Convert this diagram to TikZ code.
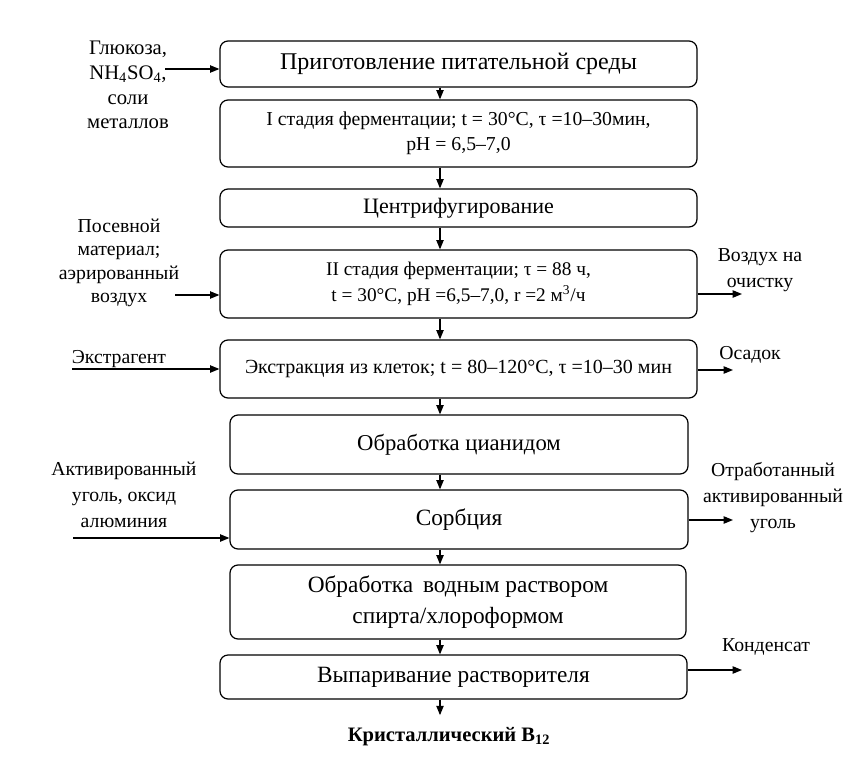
\documentclass[tikz,border=0pt]{standalone}
\usepackage{fontspec}
\setmainfont{Liberation Serif}
\usetikzlibrary{arrows.meta}
\begin{document}
\begin{tikzpicture}[x=0.75pt,y=-0.75pt,
    >={Triangle[length=7pt,width=5.5pt]},
    every path/.style={line width=0.9pt},
    stage/.style={draw,rounded corners=6pt,align=center,inner sep=0pt},
    side/.style={align=center,inner sep=0pt,font=\fontsize{14.8}{19.5}\selectfont}]
  \useasboundingbox (0,0) rectangle (861,761);
  % stages
  \node[stage,minimum width=357.75pt,minimum height=34.5pt,font=\fontsize{18}{22}\selectfont](b1) at (458.5,64) {Приготовление питательной среды};
  \node[stage,minimum width=357.75pt,minimum height=50.25pt,font=\fontsize{14.8}{19}\selectfont](b2) at (458.5,133.5) {I стадия ферментации; t = 30°C, τ =10–30мин,\\ pH = 6,5–7,0};
  \node[stage,minimum width=357.75pt,minimum height=28.5pt,font=\fontsize{16.5}{19}\selectfont](b3) at (458.5,208) {Центрифугирование};
  \node[stage,minimum width=357.75pt,minimum height=51pt,font=\fontsize{14.5}{19}\selectfont](b4) at (458.5,284) {II стадия ферментации; τ = 88 ч,\\ t = 30°C, pH =6,5–7,0, r =2 м\textsuperscript{3}/ч};
  \node[stage,minimum width=357.75pt,minimum height=43.5pt,font=\fontsize{15}{18}\selectfont](b5) at (458.5,369) {Экстракция из клеток; t = 80–120°C, τ =10–30 мин};
  \node[stage,minimum width=343.5pt,minimum height=44.25pt,font=\fontsize{17}{21}\selectfont](b6) at (459,444.5) {Обработка цианидом};
  \node[stage,minimum width=343.5pt,minimum height=44.25pt,font=\fontsize{17.5}{21}\selectfont](b7) at (459,519.5) {Сорбция};
  \node[stage,minimum width=342pt,minimum height=55.5pt,font=\fontsize{17.5}{23}\selectfont](b8) at (458,602) {Обработка\, водным раствором\\ спирта/хлороформом};
  \node[stage,minimum width=350.25pt,minimum height=33pt,font=\fontsize{17.5}{21}\selectfont](b9) at (453.5,677) {Выпаривание растворителя};
  \node[inner sep=0pt,font=\fontsize{15.4}{18}\selectfont\bfseries](prod) at (449,737) {Кристаллический B\textsubscript{12}};
  % inputs and outputs
  \node[side,font=\fontsize{15.5}{18.5}\selectfont](glucose) at (128,85) {Глюкоза,\\ NH\textsubscript{4}SO\textsubscript{4},\\ соли\\ металлов};
  \node[side,font=\fontsize{14.8}{17.5}\selectfont](seed) at (119,263) {Посевной\\ материал;\\ аэрированный\\ воздух};
  \node[side](extr) at (119,359) {Экстрагент};
  \node[side](sorbent) at (124,495) {Активированный\\ уголь, оксид\\ алюминия};
  \node[side](air) at (760,270) {Воздух на\\ очистку};
  \node[side](sediment) at (750,355) {Осадок};
  \node[side](spent) at (773,498) {Отработанный\\ активированный\\ уголь};
  \node[side](condensate) at (766,647) {Конденсат};
  \coordinate (spine) at (440,0);
  \coordinate (i1) at (165,69);
  \coordinate (i2) at (175,295);
  \coordinate (i3) at (72,369);
  \coordinate (i4) at (73,538);
  \coordinate (o1) at (742,294);
  \coordinate (o2) at (733,370);
  \coordinate (o3) at (733,520);
  \coordinate (o4) at (742,670);
  \foreach \x/\y in {b1/b2,b2/b3,b3/b4,b4/b5,b5/b6,b6/b7,b7/b8,b8/b9}{
    \draw[->](\x.south -| spine) -- (\y.north -| spine);
  }
  \draw[->,shorten >=9pt](b9.south -| spine) -- (prod.north -| spine);
  \foreach \c/\b in {i1/b1,i2/b4,i3/b5,i4/b7}{
    \draw[->](\c) -- (\c -| \b.west);
  }
  \foreach \b/\c in {b4/o1,b5/o2,b7/o3,b9/o4}{
    \draw[->](\c -| \b.east) -- (\c);
  }
\end{tikzpicture}
\end{document}
